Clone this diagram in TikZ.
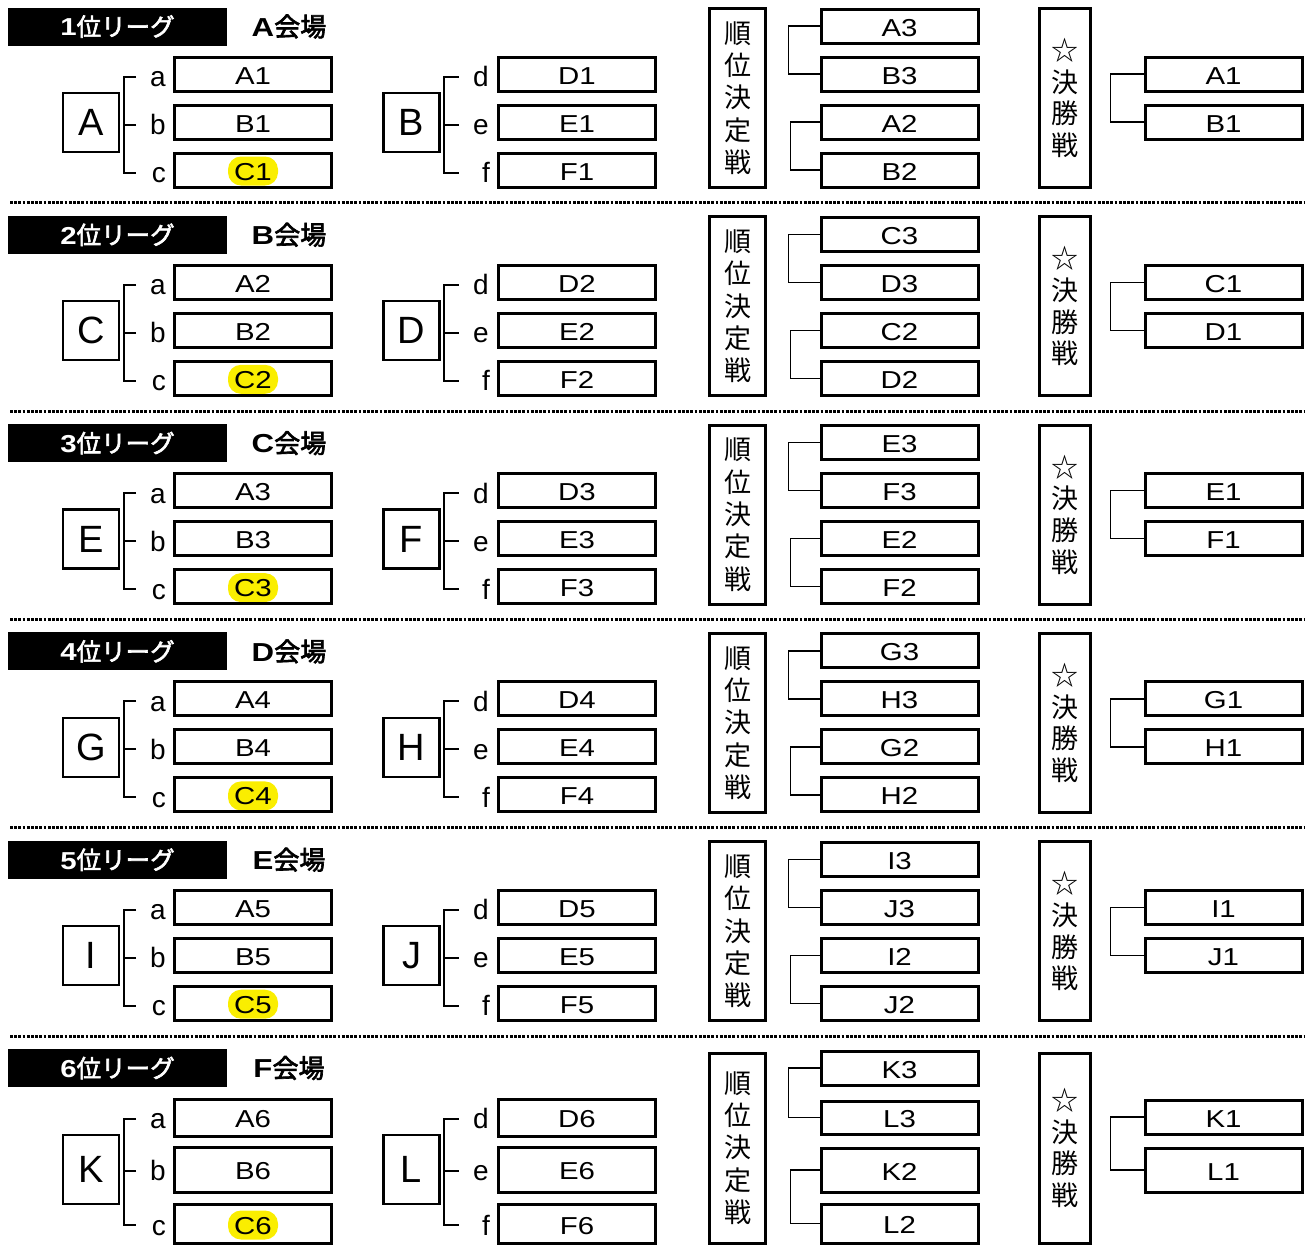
\documentclass[tikz,border=0pt]{standalone}
\usepackage{fontspec}
\newfontfamily\lat{Liberation Sans}[FakeStretch=1.2]
\newfontfamily\latplain{Liberation Sans}
\newfontfamily\latb{Liberation Sans}[FakeStretch=1.2]
\newfontfamily\jp{Noto Sans CJK JP}
\newfontfamily\jpb{Noto Sans CJK JP}[FakeBold=2.5]
\usetikzlibrary{calc}
\definecolor{hl}{RGB}{250,238,0}
\newcommand\bnum[1]{{\latb\bfseries #1}}
\begin{document}
\begin{tikzpicture}[x=1pt,y=-1pt,
  box/.style={draw, line width=3pt, minimum width=157pt, inner sep=0pt,
    font=\lat\fontsize{24.5}{24.5}\selectfont, text height=20pt, text depth=0pt},
  bigbox/.style={draw, line width=2.3pt, minimum width=56pt, inner sep=0pt,
    font=\latplain\fontsize{38}{38}\selectfont},
  lab/.style={anchor=base east, inner sep=0pt, font=\latplain\fontsize{28}{28}\selectfont},
  tallbox/.style={draw, line width=3pt, inner sep=0pt, align=center},
  banner/.style={fill=black, text=white, minimum width=219pt, minimum height=38pt, inner sep=0pt,
    font=\jpb\fontsize{24.5}{24.5}\selectfont},
  venue/.style={inner sep=0pt, font=\jpb\fontsize{26}{26}\selectfont},
  hlt/.style={fill=hl, rounded corners=13pt, minimum width=50pt, minimum height=29pt, inner sep=0pt},
  brk/.style={line width=2pt},
  conn/.style={line width=1.2pt},
  dotline/.style={line width=3pt, dash pattern=on 2.8pt off 1.4pt}]
\useasboundingbox (0,0) rectangle (1305,1254);
\foreach \n/\vn/\L/\R in {1/A/A/B, 2/B/C/D, 3/C/E/F, 4/D/G/H, 5/E/I/J, 6/F/K/L} {
  \pgfmathsetmacro\yo{208.3*(\n-1)}
  \ifnum\n=6
    \def\ca{76}\def\cb{128}\def\cc{182.5}\def\ha{37}\def\hb{45}\def\hc{39}
    \def\bigc{128}\def\bigh{69}
    \def\ra{26.5}\def\rb{76}\def\rc{128.5}\def\rd{182}
    \def\rha{34}\def\rhb{33}\def\rhc{44}\def\rhd{39}
    \def\tallc{106.5}\def\tallh{190}
    \def\fa{75.5}\def\fb{128.5}\def\fha{34}\def\fhb{44}
    \def\tk{1}\def\lb{11}
  \else
    \def\ca{74}\def\cb{122}\def\cc{170}\def\ha{34}\def\hb{34}\def\hc{34}
    \def\bigc{122.5}\def\bigh{59}
    \def\ra{26}\def\rb{74}\def\rc{122}\def\rd{170}
    \def\rha{34}\def\rhb{34}\def\rhc{34}\def\rhd{34}
    \def\tallc{98}\def\tallh{179}
    \def\fa{74}\def\fb{122}\def\fha{34}\def\fhb{34}
    \def\tk{2.5}\def\lb{12.5}
  \fi
  % header
  \node[banner] (ban\n) at (117.5, \yo+26.5) {\bnum{\n}位リーグ};
  \node[venue] (ven\n) at (289, \yo+26.5) {\bnum{\vn}会場};
  % left group
  \node[bigbox, minimum height=\bigh pt] (big\L) at (91, \yo+\bigc) {\L};
  \node[hlt] (hl\n) at (253, \yo+\cc+1) {};
  \node[box, minimum height=\ha pt] (A\n) at (253, \yo+\ca) {A\n};
  \node[box, minimum height=\hb pt] (B\n) at (253, \yo+\cb) {B\n};
  \node[box, minimum height=\hc pt] (C\n) at (253, \yo+\cc) {C\n};
  \node[lab] (la\n) at (166, \yo+\ca+\lb) {a};
  \node[lab] (lb\n) at (166, \yo+\cb+\lb) {b};
  \node[lab] (lc\n) at (166, \yo+\cc+\lb) {c};
  \draw[brk] ($(A\n.west)+(-37,\tk)$) -- ++(-12,0) |- ($(C\n.west)+(-37,\tk)$);
  \draw[brk] ($(B\n.west)+(-37,\tk)$) -- ++(-12,0);
  % right group
  \node[bigbox, minimum height=\bigh pt] (big\R) at (411.5, \yo+\bigc) {\R};
  \node[box, minimum height=\ha pt] (D\n) at (577, \yo+\ca) {D\n};
  \node[box, minimum height=\hb pt] (E\n) at (577, \yo+\cb) {E\n};
  \node[box, minimum height=\hc pt] (F\n) at (577, \yo+\cc) {F\n};
  \node[lab] (ld\n) at (489, \yo+\ca+\lb) {d};
  \node[lab] (le\n) at (489, \yo+\cb+\lb) {e};
  \node[lab] (lf\n) at (490, \yo+\cc+\lb) {f};
  \draw[brk] ($(D\n.west)+(-38.5,\tk)$) -- ++(-15,0) |- ($(F\n.west)+(-38.5,\tk)$);
  \draw[brk] ($(E\n.west)+(-38.5,\tk)$) -- ++(-15,0);
  % ranking matches
  \node[tallbox, minimum width=56pt, minimum height=\tallh pt,
        font=\jp\fontsize{27}{32.3}\selectfont] (rk\n) at (737.5, \yo+\tallc) {順\\位\\決\\定\\戦};
  \node[box, minimum height=\rha pt] (rtL\n) at (899.5, \yo+\ra) {\L3};
  \node[box, minimum height=\rhb pt] (rtR\n) at (899.5, \yo+\rb) {\R3};
  \node[box, minimum height=\rhc pt] (rsL\n) at (899.5, \yo+\rc) {\L2};
  \node[box, minimum height=\rhd pt] (rsR\n) at (899.5, \yo+\rd) {\R2};
  \draw[conn] (rtL\n.west) -- ++(-31,0) |- (rtR\n.west);
  \draw[conn] (rsL\n.west) -- ++(-29,0) |- (rsR\n.west);
  % final
  \node[tallbox, minimum width=51pt, minimum height=\tallh pt,
        font=\jp\fontsize{27}{31.7}\selectfont] (fin\n) at (1064.5, \yo+\tallc) {☆\\決\\勝\\戦};
  \node[box, minimum height=\fha pt] (fL\n) at (1223.5, \yo+\fa) {\L1};
  \node[box, minimum height=\fhb pt] (fR\n) at (1223.5, \yo+\fb) {\R1};
  \draw[conn] (fL\n.west) -- ++(-33,0) |- (fR\n.west);
}
\foreach \k in {1,...,5} {
  \draw[dotline] (10, {208.3*\k-5.5}) -- (1305, {208.3*\k-5.5});
}
\end{tikzpicture}
\end{document}
